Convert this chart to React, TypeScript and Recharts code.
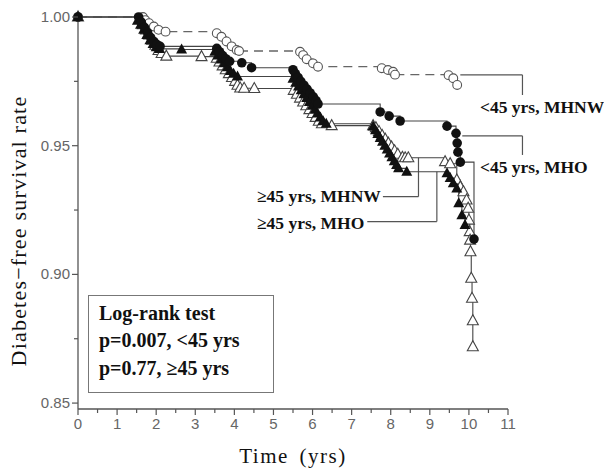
import { LineChart, Line, XAxis, YAxis, ReferenceLine } from 'recharts';

// [time (yrs), diabetes-free survival]
const youngMhnw: [number, number][] = [
  [0, 1], [1.66, 1.0], [1.72, 0.9988], [1.82, 0.9976], [1.94, 0.9963], [2.06, 0.995], [2.24, 0.9943],
  [3.55, 0.9937], [3.67, 0.9923], [3.8, 0.9905], [3.93, 0.9886], [4.06, 0.9872], [4.12, 0.9868],
  [5.68, 0.9865], [5.76, 0.9852], [5.85, 0.9836], [6.01, 0.982], [6.14, 0.9807],
  [7.77, 0.9801], [7.93, 0.9794], [8.06, 0.9787], [8.11, 0.9776],
  [9.48, 0.9774], [9.6, 0.9762], [9.7, 0.9736],
];

const youngMho: [number, number][] = [
  [0, 1], [1.55, 1], [1.62, 0.998], [1.7, 0.996], [1.78, 0.994], [1.86, 0.992], [1.94, 0.9905], [2.02, 0.9893], [2.1, 0.9886],
  [3.55, 0.9878], [3.62, 0.9865], [3.7, 0.985], [3.78, 0.9838], [3.88, 0.9828], [4.19, 0.9822], [4.44, 0.9803],
  [5.5, 0.9795], [5.56, 0.978], [5.63, 0.9765], [5.7, 0.975], [5.78, 0.9735], [5.86, 0.972], [5.94, 0.9705],
  [6.02, 0.969], [6.09, 0.9675], [6.14, 0.9662],
  [7.73, 0.9631], [7.96, 0.9615], [8.24, 0.9596],
  [9.44, 0.9576], [9.67, 0.9548], [9.7, 0.951], [9.72, 0.9475], [9.78, 0.9436], [10.13, 0.9137],
];

const oldMhnw: [number, number][] = [
  [0, 1], [1.58, 0.999], [1.66, 0.997], [1.74, 0.995], [1.82, 0.993], [1.9, 0.991], [1.98, 0.989], [2.06, 0.987],
  [2.14, 0.9858], [2.26, 0.9848], [3.16, 0.9846],
  [3.55, 0.984], [3.62, 0.9825], [3.7, 0.981], [3.78, 0.9795], [3.86, 0.978], [3.94, 0.9765], [4.02, 0.975],
  [4.08, 0.9735], [4.15, 0.9724], [4.25, 0.9723], [4.51, 0.9722],
  [5.52, 0.9715], [5.6, 0.97], [5.68, 0.9685], [5.76, 0.967], [5.84, 0.9655], [5.92, 0.964], [6.0, 0.9625],
  [6.08, 0.961], [6.16, 0.9595], [6.24, 0.9585], [6.49, 0.9578], [7.55, 0.9578],
  [7.62, 0.957], [7.7, 0.9555], [7.78, 0.954], [7.86, 0.9525], [7.94, 0.951], [8.02, 0.9495], [8.1, 0.948],
  [8.18, 0.9467], [8.3, 0.9455], [8.37, 0.9453], [8.45, 0.9453],
  [9.39, 0.9438], [9.52, 0.943], [9.69, 0.9367], [9.78, 0.934], [9.86, 0.9321], [9.94, 0.9289], [9.98, 0.9257],
  [10.0, 0.9211], [10.02, 0.9166], [10.03, 0.9133], [10.04, 0.9088], [10.06, 0.8985], [10.08, 0.8907],
  [10.1, 0.882], [10.1, 0.8719],
];

const oldMho: [number, number][] = [
  [0, 1], [1.52, 0.9985], [1.6, 0.997], [1.68, 0.995], [1.76, 0.993], [1.84, 0.991], [1.92, 0.9895], [2.0, 0.9882],
  [2.08, 0.9876], [2.65, 0.9874],
  [3.5, 0.9865], [3.58, 0.985], [3.66, 0.9835], [3.74, 0.982], [3.82, 0.9805], [3.9, 0.979], [3.98, 0.978], [4.08, 0.9769],
  [5.5, 0.976], [5.57, 0.9745], [5.64, 0.973], [5.71, 0.9715], [5.78, 0.97], [5.85, 0.9685], [5.92, 0.967],
  [5.99, 0.9655], [6.06, 0.964], [6.13, 0.9625], [6.2, 0.961], [6.27, 0.9595], [6.35, 0.9585],
  [7.55, 0.9575], [7.61, 0.956], [7.67, 0.9545], [7.73, 0.953], [7.79, 0.9515], [7.85, 0.95], [7.91, 0.9485],
  [7.97, 0.947], [8.03, 0.9455], [8.09, 0.944], [8.15, 0.9425], [8.2, 0.9412], [8.41, 0.9399],
  [9.44, 0.9393], [9.52, 0.9374], [9.6, 0.9354], [9.69, 0.9334], [9.74, 0.9276], [9.82, 0.923], [9.9, 0.9192],
];

const xTicks = [0, 0.5, 1, 1.5, 2, 2.5, 3, 3.5, 4, 4.5, 5, 5.5, 6, 6.5, 7, 7.5, 8, 8.5, 9, 9.5, 10, 10.5, 11];
const yTicks = [0.85, 0.875, 0.9, 0.925, 0.95, 0.975, 1.0];

// label leader lines: [x1, y1, x2(corner), y2(end)]
const leaders: [number, number, number, number][] = [
  [9.78, 0.9775, 11.37, 0.9697],
  [9.83, 0.9538, 11.37, 0.9464],
  [7.8, 0.9302, 8.71, 0.9453],
  [7.4, 0.9205, 9.18, 0.9399],
];

const logRankLines = ['Log-rank test', 'p=0.007, <45 yrs', 'p=0.77, \u226545 yrs'];

const toRows = (pts: [number, number][]) => pts.map(([t, s]) => ({ t, s }));

const serif = '"Liberation Serif", "Times New Roman", serif';
const sans = '"Liberation Sans", Arial, sans-serif';

const XTick = (props: any) => {
  const { x, y, payload } = props;
  const major = Number.isInteger(payload.value);
  return (
    <g>
      <line x1={x} x2={x} y1={y} y2={y + (major ? 6 : 4)} stroke="#555" strokeWidth={1.2} />
      {major && (
        <text x={x} y={y + 20} textAnchor="middle" fontSize={15} fill="#666" fontFamily={sans}>
          {payload.value}
        </text>
      )}
    </g>
  );
};

const YTick = (props: any) => {
  const { x, y, payload } = props;
  const v = payload.value;
  const major = Math.abs(v * 20 - Math.round(v * 20)) < 1e-6;
  return (
    <g>
      <line x1={x} x2={x - (major ? 6 : 4)} y1={y} y2={y} stroke="#555" strokeWidth={1.2} />
      {major && (
        <text x={x - 8} y={y + 5} textAnchor="end" fontSize={15} fill="#666" fontFamily={sans}>
          {v.toFixed(2)}
        </text>
      )}
    </g>
  );
};

const openCircle = (p: any) => (
  <circle key={`oc-${p.index}`} cx={p.cx} cy={p.cy} r={4.4} fill="#fff" stroke="#555" strokeWidth={1.1} />
);
const filledCircle = (p: any) => (
  <circle key={`fc-${p.index}`} cx={p.cx} cy={p.cy} r={4.8} fill="#111" />
);
const triPath = (cx: number, cy: number) =>
  `M${cx},${cy - 6} L${cx - 5.5},${cy + 4} L${cx + 5.5},${cy + 4} Z`;
const openTri = (p: any) => (
  <path key={`ot-${p.index}`} d={triPath(p.cx, p.cy)} fill="#fff" stroke="#444" strokeWidth={1.1} />
);
const filledTri = (p: any) => (
  <path key={`ft-${p.index}`} d={triPath(p.cx, p.cy)} fill="#111" />
);

const labelStyle: React.CSSProperties = {
  position: 'absolute',
  fontFamily: serif,
  fontWeight: 'bold',
  fontSize: 17.5,
  lineHeight: '20px',
  color: '#111',
  whiteSpace: 'nowrap',
};

export default function App() {
  return (
    <div style={{ position: 'absolute', left: 0, top: 0, width: 604, height: 473, background: '#fff' }}>
      <LineChart width={604} height={473} margin={{ top: 17, right: 96, bottom: 34, left: 0 }}>
        <XAxis
          type="number"
          dataKey="t"
          domain={[0, 11]}
          ticks={xTicks}
          interval={0}
          height={30}
          tickLine={false}
          tickSize={0}
          tickMargin={0}
          tick={<XTick />}
          axisLine={{ stroke: '#555', strokeWidth: 1.3 }}
        />
        <YAxis
          type="number"
          dataKey="s"
          domain={[0.8477, 1]}
          ticks={yTicks}
          interval={0}
          width={78}
          tickLine={false}
          tickSize={0}
          tickMargin={0}
          tick={<YTick />}
          axisLine={{ stroke: '#555', strokeWidth: 1.3 }}
        />
        {leaders.map(([x1, y1, x2], i) => (
          <ReferenceLine
            key={`lh-${i}`}
            segment={[{ x: x1, y: y1 }, { x: x2, y: y1 }]}
            stroke="#555"
            strokeWidth={1.2}
            ifOverflow="visible"
          />
        ))}
        {leaders.map(([, y1, x2, y2], i) => (
          <ReferenceLine
            key={`lv-${i}`}
            segment={[{ x: x2, y: y1 }, { x: x2, y: y2 }]}
            stroke="#555"
            strokeWidth={1.2}
            ifOverflow="visible"
          />
        ))}
        <Line
          data={toRows(oldMhnw)}
          dataKey="s"
          type="stepAfter"
          stroke="#444"
          strokeWidth={1.1}
          dot={openTri}
          activeDot={false}
          isAnimationActive={false}
        />
        <Line
          data={toRows(youngMhnw)}
          dataKey="s"
          type="stepAfter"
          stroke="#666"
          strokeWidth={1.3}
          strokeDasharray="9 6"
          dot={openCircle}
          activeDot={false}
          isAnimationActive={false}
        />
        <Line
          data={toRows(oldMho)}
          dataKey="s"
          type="stepAfter"
          stroke="#444"
          strokeWidth={1.1}
          dot={filledTri}
          activeDot={false}
          isAnimationActive={false}
        />
        <Line
          data={toRows(youngMho)}
          dataKey="s"
          type="stepAfter"
          stroke="#444"
          strokeWidth={1.1}
          dot={filledCircle}
          activeDot={false}
          isAnimationActive={false}
        />
      </LineChart>

      <div style={{ ...labelStyle, left: 480, top: 97 }}>&lt;45 yrs, MHNW</div>
      <div style={{ ...labelStyle, left: 480, top: 157 }}>&lt;45 yrs, MHO</div>
      <div style={{ ...labelStyle, left: 257, top: 186 }}>{'\u226545 yrs, MHNW'}</div>
      <div style={{ ...labelStyle, left: 257, top: 213 }}>{'\u226545 yrs, MHO'}</div>

      <div
        style={{
          position: 'absolute',
          left: 88,
          top: 295,
          width: 184,
          height: 96,
          border: '1.5px solid #777',
        }}
      />
      {logRankLines.map((line, i) => (
        <div
          key={line}
          style={{
            position: 'absolute',
            left: 99,
            top: 299.5 + i * 27.5,
            fontFamily: serif,
            fontWeight: 'bold',
            fontSize: 20,
            lineHeight: '27.5px',
            color: '#111',
            whiteSpace: 'nowrap',
          }}
        >
          {line}
        </div>
      ))}

      <div
        style={{
          position: 'absolute',
          left: 293 - 100,
          top: 445,
          width: 200,
          textAlign: 'center',
          fontFamily: serif,
          fontSize: 21,
          lineHeight: '22px',
          letterSpacing: 1.5,
          wordSpacing: 4,
          color: '#111',
        }}
      >
        Time (yrs)
      </div>
      <div
        style={{
          position: 'absolute',
          left: 19 - 160,
          top: 231 - 12,
          width: 320,
          textAlign: 'center',
          fontFamily: serif,
          fontSize: 22,
          lineHeight: '24px',
          letterSpacing: 1.2,
          color: '#111',
          transform: 'rotate(-90deg)',
          whiteSpace: 'nowrap',
        }}
      >
        Diabetes{'\u2212'}free survival rate
      </div>
    </div>
  );
}
